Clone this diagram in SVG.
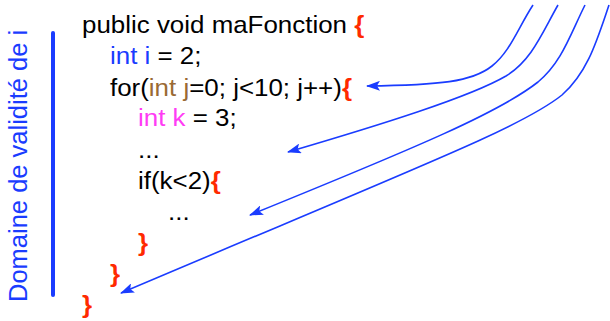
<svg xmlns="http://www.w3.org/2000/svg" width="610" height="321" viewBox="0 0 610 321">
<defs>
<style>
.code{font-family:"Liberation Sans",Arial,sans-serif;font-size:24px;fill:#000}
.kw{fill:#1a3cff}
.br{fill:#9a6a34}
.mg{fill:#ff3cf5}
.rd{fill:#ff2a00;font-weight:bold}
.lbl{font-family:"Liberation Sans",Arial,sans-serif;font-size:25.5px;fill:#1a3cff}
.arr{fill:none;stroke:#1a3cff;stroke-width:1.6;marker-end:url(#ah)}
</style>
<marker id="ah" viewBox="0 0 14 10" refX="13" refY="5" markerWidth="14" markerHeight="10" markerUnits="userSpaceOnUse" orient="auto">
<path d="M0,0 L14,5 L0,10 L3,5 Z" fill="#1a3cff"/>
</marker>
</defs>
<rect width="610" height="321" fill="#fff"/>
<g id="scope">
<text class="lbl" transform="translate(27,302) rotate(-90)">Domaine de validité de i</text>
<line x1="53" y1="33" x2="53" y2="295" stroke="#1a3cff" stroke-width="4" stroke-linecap="round"/>
</g>
<g id="code">
<text class="code" transform="translate(82,33) scale(1.08,1)">public void maFonction <tspan class="rd">{</tspan></text>
<text class="code" transform="translate(110,64) scale(1.08,1)"><tspan class="kw">int i</tspan> = 2;</text>
<text class="code" transform="translate(110,96) scale(1.08,1)">for(<tspan class="br">int j</tspan>=0; j&lt;10; j++)<tspan class="rd">{</tspan></text>
<text class="code" transform="translate(138,126) scale(1.08,1)"><tspan class="mg">int k</tspan> = 3;</text>
<text class="code" transform="translate(138,158) scale(1.08,1)">...</text>
<text class="code" transform="translate(138,189) scale(1.08,1)">if(k&lt;2)<tspan class="rd">{</tspan></text>
<text class="code" transform="translate(168,220) scale(1.08,1)">...</text>
<text class="code rd" transform="translate(138,251) scale(1.08,1)">}</text>
<text class="code rd" transform="translate(110,282) scale(1.08,1)">}</text>
<text class="code rd" transform="translate(82,313) scale(1.08,1)">}</text>
</g>
<g id="connectors">
<path class="arr" d="M533,5 C518,28 510,52 492,66 C472,82 440,85 367,86"/>
<path class="arr" d="M558,5 C542,33 532,60 506,76 C470,97 380,125 288,152"/>
<path class="arr" d="M585,5 C570,35 562,62 538,82 C500,112 420,146 250,215"/>
<path class="arr" d="M609,5 C597,40 588,72 562,95 C522,127 430,162 121,293"/>
</g>
</svg>
